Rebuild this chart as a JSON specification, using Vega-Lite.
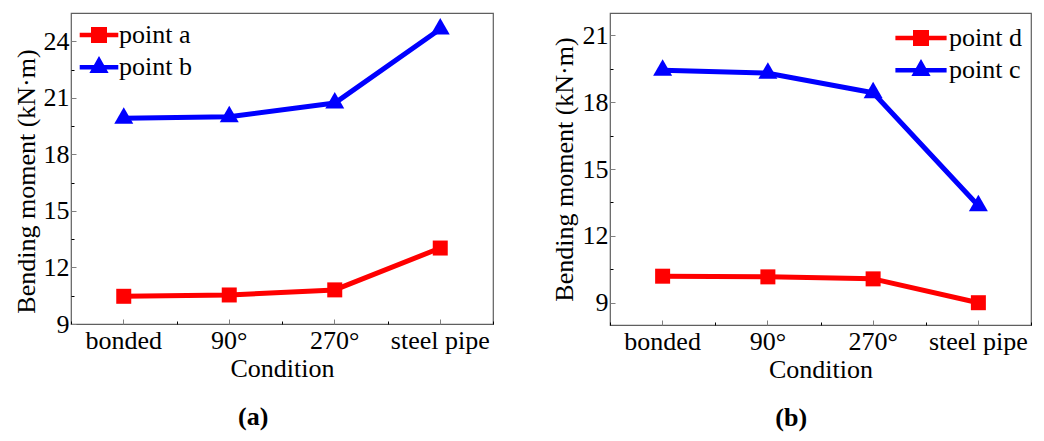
{
  "$schema": "https://vega.github.io/schema/vega-lite/v6.json",
  "padding": {"left": 12, "top": 12, "right": 0, "bottom": 0},
  "spacing": 55,
  "resolve": {"scale": {"color": "independent", "shape": "independent"}, "legend": {"color": "independent", "shape": "independent"}},
  "config": {
    "font": "Liberation Serif",
    "view": {"stroke": "#5f5f5f", "strokeWidth": 1.2},
    "axis": {"labelFont": "Liberation Serif", "titleFont": "Liberation Serif", "labelFontSize": 26, "titleFontSize": 26, "titleFontWeight": "normal", "labelColor": "#000000", "titleColor": "#000000", "tickWidth": 1, "grid": false, "domain": false},
    "legend": {"labelFont": "Liberation Serif", "labelFontSize": 26, "labelColor": "#000000", "labelLimit": 0},
    "title": {"font": "Liberation Serif", "fontSize": 26, "fontWeight": "bold", "color": "#000000"}
  },
  "hconcat": [
    {
      "width": 422,
      "height": 311,
      "title": {"text": "(a)", "orient": "bottom", "frame": "bounds", "anchor": "middle", "offset": 23},
      "data": {"values": [
        {"condition": "bonded", "series": "point a", "value": 10.47},
        {"condition": "90°", "series": "point a", "value": 10.54},
        {"condition": "270°", "series": "point a", "value": 10.81},
        {"condition": "steel pipe", "series": "point a", "value": 13.03},
        {"condition": "bonded", "series": "point b", "value": 19.92},
        {"condition": "90°", "series": "point b", "value": 20.0},
        {"condition": "270°", "series": "point b", "value": 20.72},
        {"condition": "steel pipe", "series": "point b", "value": 24.65}
      ]},
      "resolve": {"axis": {"x": "independent", "y": "independent"}},
      "layer": [
        {
          "transform": [{"filter": "datum.series === 'point a'"}],
          "mark": {"type": "line", "color": "#ff0000", "strokeWidth": 5, "strokeJoin": "round", "strokeCap": "round"},
          "encoding": {
            "x": {"field": "condition", "type": "nominal", "scale": {"type": "band", "domain": ["bonded", "90°", "270°", "steel pipe"], "paddingInner": 0, "paddingOuter": 0},
              "axis": {"title": "Condition", "orient": "bottom", "labelAngle": 0, "tickSize": -5, "tickColor": "#808080", "labelPadding": 8, "titlePadding": 2}},
            "y": {"field": "value", "type": "quantitative", "scale": {"domain": [9, 25.5], "nice": false, "zero": false},
              "axis": {"title": "Bending moment (kN·m)", "orient": "left", "values": [9, 12, 15, 18, 21, 24], "tickSize": -5, "tickColor": "#808080", "labelPadding": 7, "titlePadding": 4, "titleY": 168}}
          }
        },
        {
          "transform": [{"filter": "datum.series === 'point b'"}],
          "mark": {"type": "line", "color": "#0000ff", "strokeWidth": 5, "strokeJoin": "round", "strokeCap": "round"},
          "encoding": {
            "x": {"field": "condition", "type": "nominal", "axis": null},
            "y": {"field": "value", "type": "quantitative", "axis": null}
          }
        },
        {
          "transform": [{"filter": "datum.series === 'point a'"}],
          "mark": {"type": "point", "shape": "square", "filled": true, "color": "#ff0000", "size": 225, "opacity": 1},
          "encoding": {
            "x": {"field": "condition", "type": "nominal", "axis": null},
            "y": {"field": "value", "type": "quantitative", "axis": null}
          }
        },
        {
          "transform": [{"filter": "datum.series === 'point b'"}],
          "mark": {"type": "point", "shape": "M0,-1.155L1,0.577L-1,0.577Z", "filled": true, "color": "#0000ff", "size": 361, "opacity": 1},
          "encoding": {
            "x": {"field": "condition", "type": "nominal", "axis": null},
            "y": {"field": "value", "type": "quantitative", "axis": null}
          }
        },
        {
          "mark": {"type": "point", "filled": true, "opacity": 0},
          "encoding": {
            "x": {"field": "condition", "type": "nominal", "axis": {"orient": "bottom", "title": null, "labels": false, "tickBand": "extent", "tickSize": -3, "tickColor": "#000000"}},
            "y": {"field": "value", "type": "quantitative", "axis": {"orient": "left", "title": null, "labels": false, "values": [10.5, 13.5, 16.5, 19.5, 22.5], "tickSize": -3, "tickColor": "#000000"}},
            "color": {"field": "series", "type": "nominal", "scale": {"domain": ["point a", "point b"], "range": ["#ff0000", "#0000ff"]},
              "legend": {"title": null, "orient": "top-left", "offset": 6, "padding": 0, "symbolSize": 1024, "symbolOffset": 6, "labelOffset": 4, "rowPadding": 3.3, "symbolOpacity": 1, "symbolStrokeWidth": 0}},
            "shape": {"field": "series", "type": "nominal", "scale": {"domain": ["point a", "point b"], "range": ["M-1.206,-0.14H1.206V0.14H-1.206Z M-0.5,-0.5H0.5V0.5H-0.5Z", "M-1.206,-0.14H1.206V0.14H-1.206Z M0,-0.7L0.6,0.35H-0.6Z"]},
              "legend": {"title": null, "orient": "top-left", "offset": 6, "padding": 0, "symbolSize": 1024, "symbolOffset": 6, "labelOffset": 4, "rowPadding": 3.3, "symbolOpacity": 1, "symbolStrokeWidth": 0}}
          }
        }
      ]
    },
    {
      "width": 421,
      "height": 312,
      "title": {"text": "(b)", "orient": "bottom", "frame": "bounds", "anchor": "middle", "offset": 23},
      "data": {"values": [
        {"condition": "bonded", "series": "point d", "value": 10.19},
        {"condition": "90°", "series": "point d", "value": 10.16},
        {"condition": "270°", "series": "point d", "value": 10.07},
        {"condition": "steel pipe", "series": "point d", "value": 9.0},
        {"condition": "bonded", "series": "point c", "value": 19.43},
        {"condition": "90°", "series": "point c", "value": 19.3},
        {"condition": "270°", "series": "point c", "value": 18.42},
        {"condition": "steel pipe", "series": "point c", "value": 13.35}
      ]},
      "resolve": {"axis": {"x": "independent", "y": "independent"}},
      "layer": [
        {
          "transform": [{"filter": "datum.series === 'point d'"}],
          "mark": {"type": "line", "color": "#ff0000", "strokeWidth": 5, "strokeJoin": "round", "strokeCap": "round"},
          "encoding": {
            "x": {"field": "condition", "type": "nominal", "scale": {"type": "band", "domain": ["bonded", "90°", "270°", "steel pipe"], "paddingInner": 0, "paddingOuter": 0},
              "axis": {"title": "Condition", "orient": "bottom", "labelAngle": 0, "tickSize": -5, "tickColor": "#808080", "labelPadding": 8, "titlePadding": 2}},
            "y": {"field": "value", "type": "quantitative", "scale": {"domain": [8, 22], "nice": false, "zero": false},
              "axis": {"title": "Bending moment (kN·m)", "orient": "left", "values": [9, 12, 15, 18, 21], "tickSize": -5, "tickColor": "#808080", "labelPadding": 7, "titlePadding": 5}}
          }
        },
        {
          "transform": [{"filter": "datum.series === 'point c'"}],
          "mark": {"type": "line", "color": "#0000ff", "strokeWidth": 5, "strokeJoin": "round", "strokeCap": "round"},
          "encoding": {
            "x": {"field": "condition", "type": "nominal", "axis": null},
            "y": {"field": "value", "type": "quantitative", "axis": null}
          }
        },
        {
          "transform": [{"filter": "datum.series === 'point d'"}],
          "mark": {"type": "point", "shape": "square", "filled": true, "color": "#ff0000", "size": 225, "opacity": 1},
          "encoding": {
            "x": {"field": "condition", "type": "nominal", "axis": null},
            "y": {"field": "value", "type": "quantitative", "axis": null}
          }
        },
        {
          "transform": [{"filter": "datum.series === 'point c'"}],
          "mark": {"type": "point", "shape": "M0,-1.155L1,0.577L-1,0.577Z", "filled": true, "color": "#0000ff", "size": 361, "opacity": 1},
          "encoding": {
            "x": {"field": "condition", "type": "nominal", "axis": null},
            "y": {"field": "value", "type": "quantitative", "axis": null}
          }
        },
        {
          "mark": {"type": "point", "filled": true, "opacity": 0},
          "encoding": {
            "x": {"field": "condition", "type": "nominal", "axis": {"orient": "bottom", "title": null, "labels": false, "tickBand": "extent", "tickSize": -3, "tickColor": "#000000"}},
            "y": {"field": "value", "type": "quantitative", "axis": {"orient": "left", "title": null, "labels": false, "values": [10.5, 13.5, 16.5, 19.5], "tickSize": -3, "tickColor": "#000000"}},
            "color": {"field": "series", "type": "nominal", "scale": {"domain": ["point d", "point c"], "range": ["#ff0000", "#0000ff"]},
              "legend": {"title": null, "orient": "top-right", "offset": 9, "padding": 0, "symbolSize": 1024, "labelOffset": 12, "rowPadding": 3.3, "symbolOpacity": 1, "symbolStrokeWidth": 0}},
            "shape": {"field": "series", "type": "nominal", "scale": {"domain": ["point d", "point c"], "range": ["M-1.6,-0.14H1.6V0.14H-1.6Z M-0.5,-0.5H0.5V0.5H-0.5Z", "M-1.6,-0.14H1.6V0.14H-1.6Z M0,-0.7L0.6,0.35H-0.6Z"]},
              "legend": {"title": null, "orient": "top-right", "offset": 9, "padding": 0, "symbolSize": 1024, "labelOffset": 12, "rowPadding": 3.3, "symbolOpacity": 1, "symbolStrokeWidth": 0}}
          }
        }
      ]
    }
  ]
}
